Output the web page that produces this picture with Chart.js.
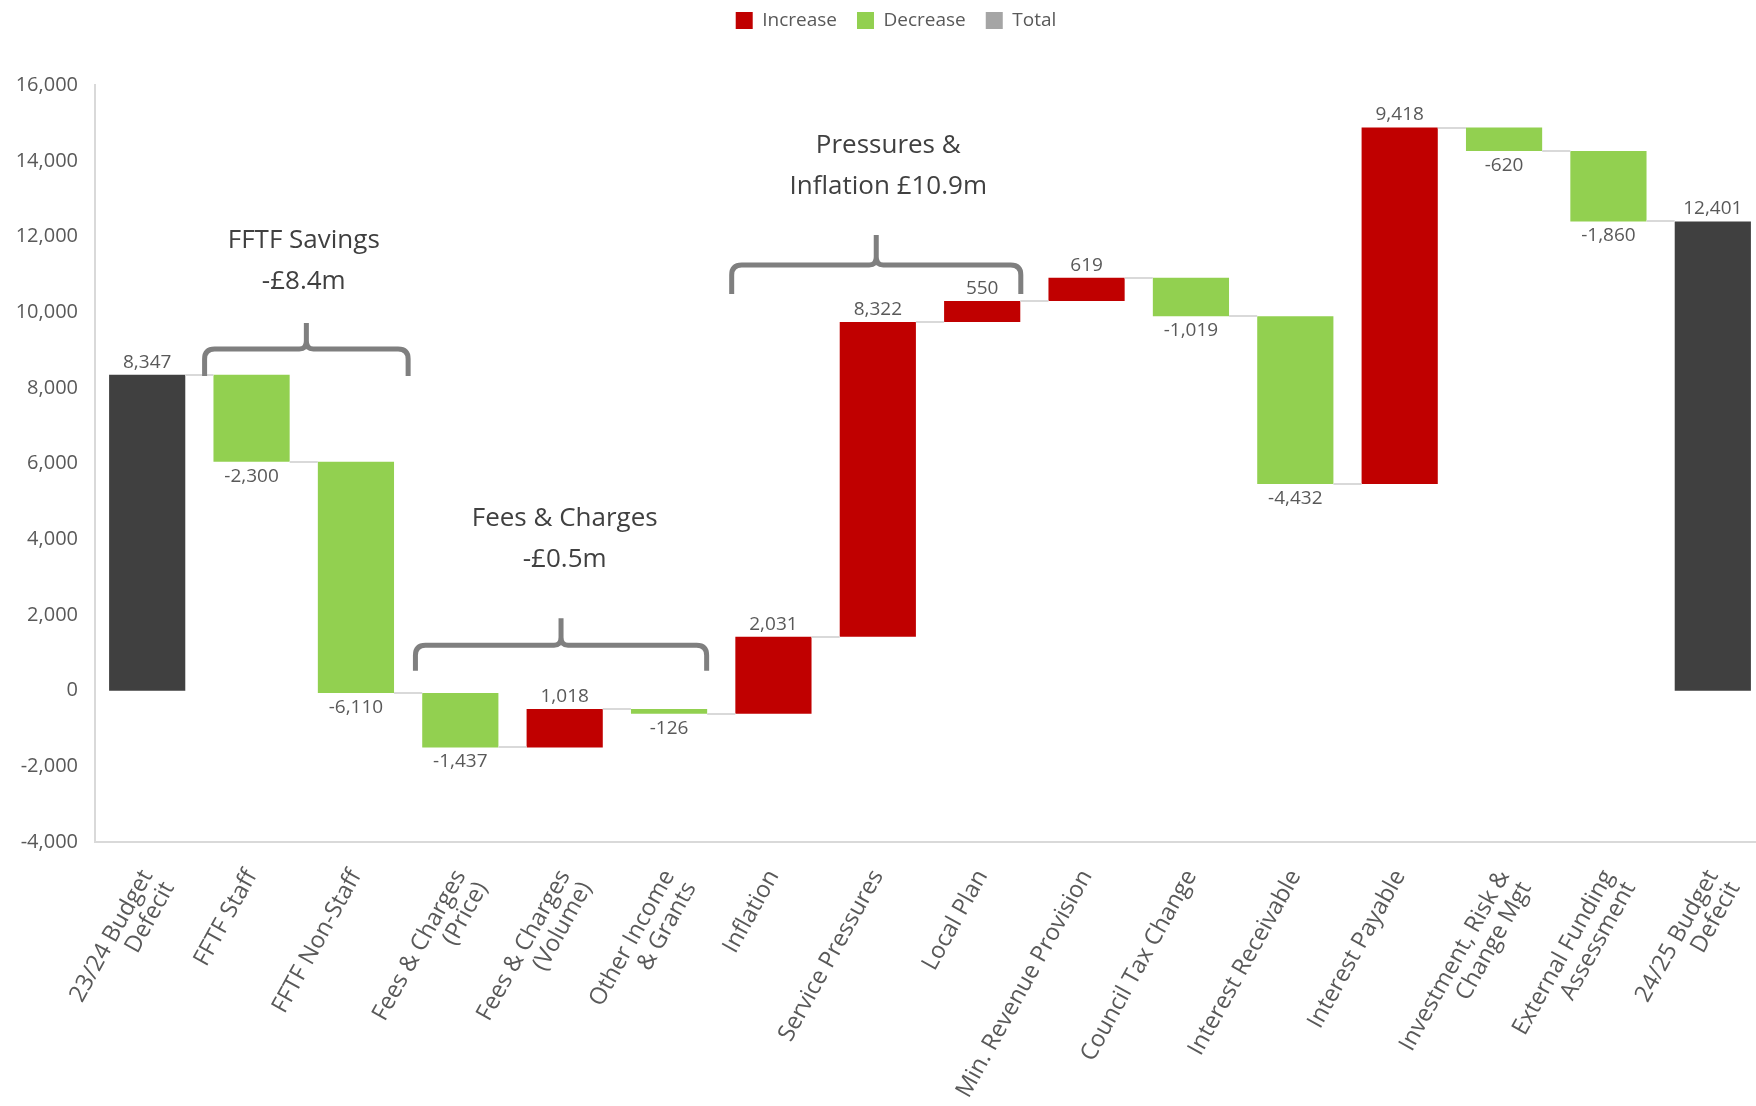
<!DOCTYPE html>
<html>
<head>
<meta charset="utf-8">
<script src="https://cdn.jsdelivr.net/npm/chart.js@4.4.1/dist/chart.umd.min.js"></script>
<style>
	html, body { margin: 0; padding: 0; background: #fff; }
	#clip { width: 1756px; height: 1106px; overflow: hidden; }
	#wrap { width: 1792px; height: 1106px; }
</style>
</head>
<body>
<div id="clip"><div id="wrap"><canvas id="graph"></canvas></div></div>
<script>
const categories = [
	["23/24 Budget", "Defecit"],
	"FFTF Staff",
	"FFTF Non-Staff",
	["Fees & Charges", "(Price)"],
	["Fees & Charges", "(Volume)"],
	["Other Income", "& Grants"],
	"Inflation",
	"Service Pressures",
	"Local Plan",
	"Min. Revenue Provision",
	"Council Tax Change",
	"Interest Receivable",
	"Interest Payable",
	["Investment, Risk &", "Change Mgt"],
	["External Funding", "Assessment"],
	["24/25 Budget", "Defecit"],
];
const changes = [8347, -2300, -6110, -1437, 1018, -126, 2031, 8322, 550, 619, -1019, -4432, 9418, -620, -1860, 12401];
const kinds = ["total", "dec", "dec", "dec", "inc", "dec", "inc", "inc", "inc", "inc", "dec", "dec", "inc", "dec", "dec", "total"];

// group braces, placed in data units (category index, value)
const braces = [
	{ text: ["FFTF Savings", "-£8.4m"], from: 0.55, to: 2.5, level: 9030, foot: 8316, tip: 9715, textX: 1.5, textY: 11340 },
	{ text: ["Fees & Charges", "-£0.5m"], from: 2.57, to: 5.36, level: 1200, foot: 528, tip: 1910, textX: 4, textY: 4013 },
	{ text: ["Pressures &", "Inflation £10.9m"], from: 5.6, to: 8.37, level: 11246, foot: 10481, tip: 12038, textX: 7.1, textY: 13860 },
];

const textColor = "#595959";
const font = "'Open Sans', 'Noto Sans', sans-serif";

// running totals -> floating bars
const starts = [];
const ends = [];
let run = 0;
changes.forEach((v, i) => {
	if (kinds[i] === "total") {
		starts.push(0);
		ends.push(v);
		run = v;
	} else {
		starts.push(run);
		run += v;
		ends.push(run);
	}
});
const barFor = (kind) => changes.map((v, i) => (kinds[i] === kind ? [starts[i], ends[i]] : null));
const dsIndex = { inc: 0, dec: 1, total: 2 };

function drawBrace(ctx, x1, x2, yH, yFoot, yTip) {
	const r = 10;
	const xm = (x1 + x2) / 2;
	ctx.beginPath();
	ctx.moveTo(x1, yFoot);
	ctx.lineTo(x1, yH + r);
	ctx.quadraticCurveTo(x1, yH, x1 + r, yH);
	ctx.lineTo(xm - 7, yH);
	ctx.quadraticCurveTo(xm, yH, xm, yH - 8);
	ctx.lineTo(xm, yTip);
	ctx.moveTo(xm, yH - 8);
	ctx.quadraticCurveTo(xm, yH, xm + 7, yH);
	ctx.lineTo(x2 - r, yH);
	ctx.quadraticCurveTo(x2, yH, x2, yH + r);
	ctx.lineTo(x2, yFoot);
	ctx.stroke();
}

const waterfallExtras = {
	id: "waterfallExtras",
	afterLayout(chart) {
		// centre the legend on the full (uncropped) width
		chart.legend.left += 13.5;
		chart.legend.right += 13.5;
	},
	afterDatasetsDraw(chart) {
		const { ctx, scales: { x, y } } = chart;
		const els = kinds.map((k, i) => chart.getDatasetMeta(dsIndex[k]).data[i]);
		ctx.save();

		// connectors
		ctx.strokeStyle = "#d9d9d9";
		ctx.lineWidth = 2;
		for (let i = 0; i < els.length - 1; i++) {
			const yy = Math.round(y.getPixelForValue(ends[i]));
			ctx.beginPath();
			ctx.moveTo(els[i].x + els[i].width / 2, yy);
			ctx.lineTo(els[i + 1].x - els[i + 1].width / 2, yy);
			ctx.stroke();
		}

		// value labels
		ctx.fillStyle = textColor;
		ctx.font = "19px " + font;
		ctx.textAlign = "center";
		els.forEach((el, i) => {
			const top = Math.min(el.y, el.base);
			const bottom = Math.max(el.y, el.base);
			const txt = changes[i].toLocaleString("en-GB");
			if (kinds[i] === "dec") {
				ctx.textBaseline = "top";
				ctx.fillText(txt, el.x, bottom + 5);
			} else {
				ctx.textBaseline = "bottom";
				ctx.fillText(txt, el.x, top - 3);
			}
		});

		// braces and group captions
		ctx.strokeStyle = "#7f7f7f";
		ctx.lineWidth = 5;
		braces.forEach((b) => {
			drawBrace(
				ctx,
				x.getPixelForValue(b.from),
				x.getPixelForValue(b.to),
				y.getPixelForValue(b.level),
				y.getPixelForValue(b.foot),
				y.getPixelForValue(b.tip)
			);
			ctx.font = "26px " + font;
			ctx.fillStyle = "#404040";
			ctx.textBaseline = "middle";
			const cx = x.getPixelForValue(b.textX);
			const cy = y.getPixelForValue(b.textY);
			ctx.fillText(b.text[0], cx, cy - 20.5);
			ctx.fillText(b.text[1], cx, cy + 20.5);
		});
		ctx.restore();
	},
};

new Chart(document.getElementById("graph"), {
	type: "bar",
	data: {
		labels: categories,
		datasets: [
			{ label: "Increase", data: barFor("inc"), backgroundColor: "#c00000" },
			{ label: "Decrease", data: barFor("dec"), backgroundColor: "#92d050" },
			{ label: "Total", data: barFor("total"), backgroundColor: "#404040" },
		],
	},
	options: {
		responsive: true,
		maintainAspectRatio: false,
		animation: false,
		events: [],
		barPercentage: 0.73,
		categoryPercentage: 1,
		layout: { padding: { top: -9, right: 27, left: 0, bottom: 0 } },
		plugins: {
			tooltip: { enabled: false },
			title: {
				display: true,
				text: " ",
				weight: 500,
				font: { size: 1 },
				padding: { top: 0, bottom: 44 },
			},
			legend: {
				position: "top",
				labels: {
					color: textColor,
					font: { family: font, size: 19 },
					boxWidth: 17,
					boxHeight: 17,
					padding: 20,
					generateLabels(chart) {
						const items = Chart.defaults.plugins.legend.labels.generateLabels(chart);
						items.forEach((it) => {
							it.lineWidth = 0;
							if (it.text === "Total") it.fillStyle = "#a5a5a5";
						});
						return items;
					},
				},
			},
		},
		scales: {
			x: {
				stacked: true,
				grid: { display: false, drawTicks: false },
				border: { color: "#d9d9d9", width: 2 },
				ticks: {
					color: textColor,
					font: { family: font, size: 23.5, lineHeight: 1.05 },
					maxRotation: 61,
					minRotation: 61,
					autoSkip: false,
					padding: 24,
				},
				afterFit(scale) {
					scale.height = 264;
				},
			},
			y: {
				min: -4000,
				max: 16000,
				grid: { display: false, drawTicks: false },
				border: { color: "#d9d9d9", width: 2 },
				ticks: {
					stepSize: 2000,
					color: textColor,
					font: { family: font, size: 20 },
					padding: 17,
					callback: (v) => v.toLocaleString("en-GB"),
				},
				afterFit(scale) {
					scale.width = 95;
				},
			},
		},
	},
	plugins: [waterfallExtras],
});
</script>
</body>
</html>
